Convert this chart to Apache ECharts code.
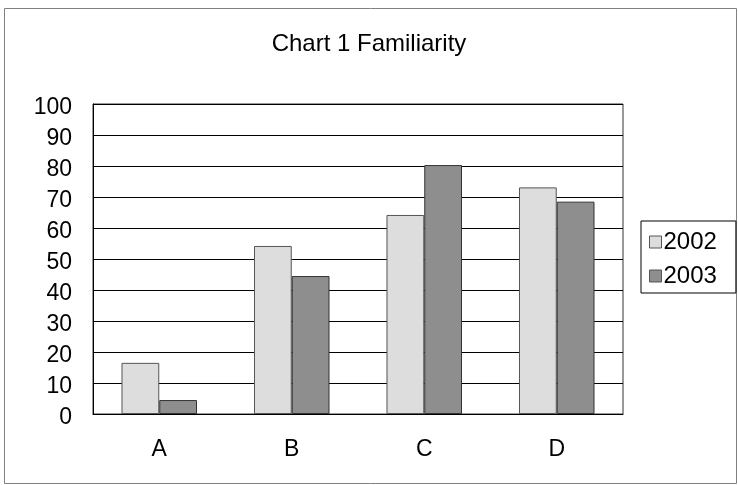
<!DOCTYPE html>
<html><head><meta charset="utf-8">
<script src="https://cdn.jsdelivr.net/npm/echarts@6/dist/echarts.min.js"></script>
<style>html,body{margin:0;padding:0;background:#fff}#c{width:738px;height:485px}</style>
</head><body><div id="c"></div>
<script>
const categories = ['A', 'B', 'C', 'D'];
const series2002 = [16.5, 54.2, 64.2, 73.1];
const series2003 = [4.5, 44.5, 80.3, 68.5];
const seriesNames = ['2002', '2003'];
const titleText = 'Chart 1 Familiarity';

const chart = echarts.init(document.getElementById('c'), null, {renderer: 'canvas'});
const font = 'Liberation Sans, Arial, sans-serif';
chart.setOption({
  animation: false,
  backgroundColor: '#fff',
  title: {text: titleText, left: 'center', top: 27, textStyle: {fontFamily: font, fontSize: 24, fontWeight: 'normal', color: '#000'}},
  graphic: [{type: 'rect', shape: {x: 4.5, y: 8.5, width: 732, height: 475}, style: {fill: 'none', stroke: '#808080', lineWidth: 1}, z: -1}],
  legend: {
    orient: 'vertical', left: 641, top: 221,
    padding: [9, 19, 5, 8], itemGap: 10,
    borderColor: '#000', borderWidth: 1, backgroundColor: '#fff',
    itemWidth: 12, itemHeight: 12, icon: 'rect',
    itemStyle: {borderColor: '#555', borderWidth: 1},
    textStyle: {fontFamily: font, fontSize: 24, color: '#000', padding: [0, 0, 0, -3]},
    data: seriesNames
  },
  grid: {left: 93, top: 104, width: 530, height: 310, containLabel: false, show: true, borderColor: '#333', borderWidth: 1},
  xAxis: {
    type: 'category', data: categories,
    axisLine: {lineStyle: {color: '#000', width: 1}},
    axisTick: {inside: true, length: 7, lineStyle: {color: '#000'}},
    axisLabel: {fontFamily: font, fontSize: 23, color: '#000', margin: 24}
  },
  yAxis: {
    type: 'value', min: 0, max: 100, interval: 10,
    axisLine: {show: true, lineStyle: {color: '#000'}},
    axisTick: {show: false},
    splitLine: {lineStyle: {color: '#000', width: 1}},
    axisLabel: {
      fontFamily: font, fontSize: 23, color: '#000', margin: 21,
      formatter: '{v|{value}}',
      rich: {v: {fontFamily: font, fontSize: 23, color: '#000', padding: [8, 0, 0, 0]}}
    }
  },
  series: [
    {name: seriesNames[0], type: 'bar', data: series2002, barGap: '0%', barCategoryGap: '43%',
     itemStyle: {color: '#dddddd', borderColor: '#555', borderWidth: 1}},
    {name: seriesNames[1], type: 'bar', data: series2003, barGap: '0%', barCategoryGap: '43%',
     itemStyle: {color: '#8e8e8e', borderColor: '#333', borderWidth: 1}}
  ]
});
</script></body></html>
